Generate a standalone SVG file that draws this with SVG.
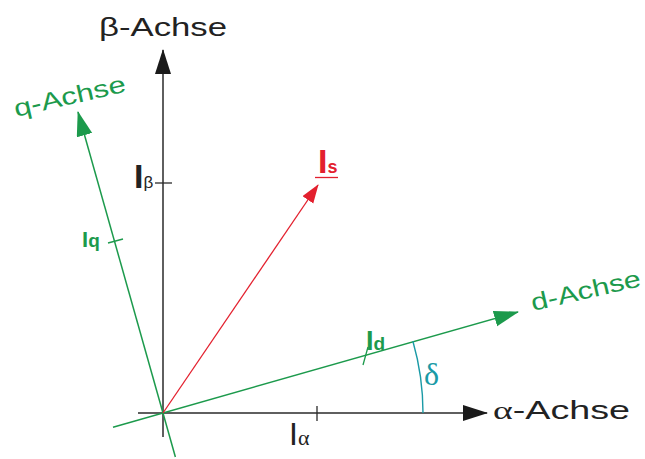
<svg xmlns="http://www.w3.org/2000/svg" width="645" height="459" viewBox="0 0 645 459">
<defs>
<style>
.ax{stroke:#2a2a2a;stroke-width:1.5;fill:none}
.gr{stroke:#1c9a4c;stroke-width:1.5;fill:none}
.rd{stroke:#e3202e;stroke-width:1.3;fill:none}
.tl{stroke:#1a9aa6;stroke-width:1.4;fill:none}
.tk{stroke:#2a2a2a;stroke-width:1.3}
.tkg{stroke:#1c9a4c;stroke-width:1.3}
.lbl{font-family:"Liberation Sans",Arial,sans-serif;font-size:25px;fill:#222}
.lblg{font-family:"Liberation Sans",Arial,sans-serif;font-size:24px;fill:#1c9a4c}
.ser{font-family:"Liberation Serif","Times New Roman",serif}
.b{font-weight:bold}
</style>
<marker id="ab" markerUnits="userSpaceOnUse" markerWidth="26" markerHeight="17" refX="24" refY="8" orient="auto"><path d="M0,0 L25,8 L0,16 z" fill="#1a1a1a"/></marker>
<marker id="ag" markerUnits="userSpaceOnUse" markerWidth="26" markerHeight="17" refX="24" refY="8" orient="auto"><path d="M0,0 L25,8 L0,16 z" fill="#1c9a4c"/></marker>
<marker id="ar" markerUnits="userSpaceOnUse" markerWidth="20" markerHeight="14" refX="18" refY="6.5" orient="auto"><path d="M0,0 L19,6.5 L0,13 z" fill="#e3202e"/></marker>
</defs>
<rect width="645" height="459" fill="#fff"/>
<g id="connectors">
<line class="ax" x1="163" y1="437" x2="163" y2="50" marker-end="url(#ab)"/>
<line class="ax" x1="138" y1="413" x2="487" y2="413" marker-end="url(#ab)"/>
<line class="gr" x1="113" y1="427.2" x2="518" y2="312" marker-end="url(#ag)"/>
<line class="gr" x1="175.4" y1="457" x2="78" y2="112" marker-end="url(#ag)"/>
<line class="rd" x1="163" y1="413" x2="318" y2="185" marker-end="url(#ar)"/>
<path class="tl" d="M423,413 A260,260 0 0 0 412.9,341.3"/>
<line class="tk" x1="155" y1="183" x2="172" y2="183"/>
<line class="tk" x1="317" y1="406" x2="317" y2="421"/>
<line class="tkg" x1="108" y1="243" x2="123" y2="239"/>
<line class="tkg" x1="363" y1="365" x2="368" y2="347"/>
</g>
<g id="beta-axis"><text class="lbl" x="99" y="36" textLength="128" lengthAdjust="spacingAndGlyphs">β-Achse</text></g>
<g id="alpha-axis"><text class="lbl" x="493" y="419" textLength="137" lengthAdjust="spacingAndGlyphs"><tspan class="ser">α</tspan>-Achse</text></g>
<g id="q-axis"><text class="lblg" x="16" y="117" transform="rotate(-13 16 117)" textLength="114" lengthAdjust="spacingAndGlyphs">q-Achse</text></g>
<g id="d-axis"><text class="lblg" x="533" y="311" transform="rotate(-13 533 311)" textLength="112" lengthAdjust="spacingAndGlyphs">d-Achse</text></g>
<g id="I-beta"><text class="lbl" x="134" y="188" style="font-size:34px"><tspan class="b">I</tspan><tspan style="font-size:17px">β</tspan></text></g>
<g id="I-alpha"><text class="lbl" x="289" y="445" style="font-size:32px">I<tspan class="ser" style="font-size:22px">α</tspan></text></g>
<g id="I-s"><text class="lbl" x="318" y="173" style="font-size:34px;fill:#e3202e"><tspan class="b">I</tspan><tspan class="b" style="font-size:18px">s</tspan></text><line x1="315" y1="177.5" x2="338" y2="177.5" stroke="#e3202e" stroke-width="1.3"/></g>
<g id="I-q"><text class="lblg b" x="82" y="247" style="font-size:22px">I<tspan style="font-size:19px">q</tspan></text></g>
<g id="I-d"><text class="lblg b" x="366" y="350" style="font-size:27px">I<tspan style="font-size:19px">d</tspan></text></g>
<g id="delta"><text class="ser" x="424" y="385" style="font-size:32px;fill:#1a9aa6">δ</text></g>
</svg>
